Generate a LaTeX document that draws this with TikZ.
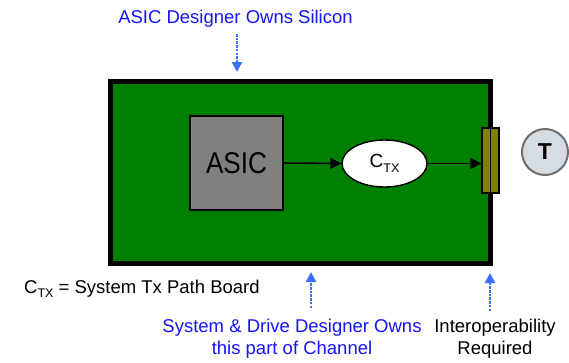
\documentclass[tikz,border=0pt]{standalone}
\usepackage{fontspec}
\setmainfont{Liberation Sans}
\usetikzlibrary{arrows.meta,shapes.geometric}
\definecolor{boardgreen}{RGB}{0,128,0}
\definecolor{asicgray}{RGB}{128,128,128}
\definecolor{olive}{RGB}{128,128,0}
\definecolor{tfill}{RGB}{214,220,228}
\definecolor{tborder}{RGB}{110,110,110}
\definecolor{txtblue}{RGB}{20,20,255}
\definecolor{arrblue}{RGB}{60,110,255}
\begin{document}
\begin{tikzpicture}[x=1pt,y=-1pt,
  lbl/.style={inner sep=0pt,align=center,font=\fontsize{18.5}{22}\selectfont},
  bluelbl/.style={lbl,text=txtblue},
  owner/.style={draw=arrblue,line width=2.8pt,dash pattern=on 2.5pt off 1.2pt,
     -{Triangle[length=10pt,width=10pt]}},
  flow/.style={draw=black,line width=1.6pt,-{Triangle[length=11pt,width=11pt]}},
]
\useasboundingbox (0,0) rectangle (569,362);
% board
\node[draw=black,fill=boardgreen,line width=5pt,minimum width=380pt,minimum height=182pt,inner sep=0pt] (board) at (300,172) {};
% ASIC
\node[draw=black,fill=asicgray,line width=1.4pt,minimum width=93pt,minimum height=94pt,inner sep=0pt] (asic) at (236.5,163) {\fontsize{30}{30}\selectfont\scalebox{0.87}[1]{ASIC}};
% Ctx
\node[draw=black,fill=white,ellipse,line width=1.4pt,minimum width=85pt,minimum height=47pt,inner sep=0pt] (ctx) at (384.5,163.5) {\fontsize{19}{19}\selectfont C\raisebox{-4.5pt}{\fontsize{12.5}{12.5}\selectfont TX}};
% connector
\node[draw=black,fill=olive,line width=1.4pt,minimum width=17pt,minimum height=65pt,inner sep=0pt] (conn) at (490.5,160.5) {};
\draw[black,line width=1.4pt] (conn.north) -- (conn.south);
% T
\node[draw=tborder,fill=tfill,circle,line width=2pt,minimum size=46pt,inner sep=0pt] (term) at (545,152) {\fontsize{23}{23}\selectfont\bfseries T};
% flows
\draw[flow] (asic.east) -- (ctx.west);
\draw[flow] (ctx.east) -- (conn.west |- ctx.east);
% labels
\node[bluelbl] (top) at (235.5,19) {ASIC Designer Owns Silicon};
\node[lbl,anchor=west] (def) at (24,289) {C\raisebox{-4.5pt}{\fontsize{12.5}{12.5}\selectfont TX} = System Tx Path Board};
\node[bluelbl] (sys) at (292,339) {System \& Drive Designer Owns\\this part of Channel};
\node[lbl] (interop) at (495,339) {Interoperability\\Required};
% owner arrows
\coordinate (t1) at (237,34);
\coordinate (t2) at (237,72);
\coordinate (s1) at (311,308);
\coordinate (s2) at (311,272);
\coordinate (i1) at (490,311);
\coordinate (i2) at (490,273);
\draw[owner] (t1) -- (t2);
\draw[owner] (s1) -- (s2);
\draw[owner] (i1) -- (i2);
\end{tikzpicture}
\end{document}
